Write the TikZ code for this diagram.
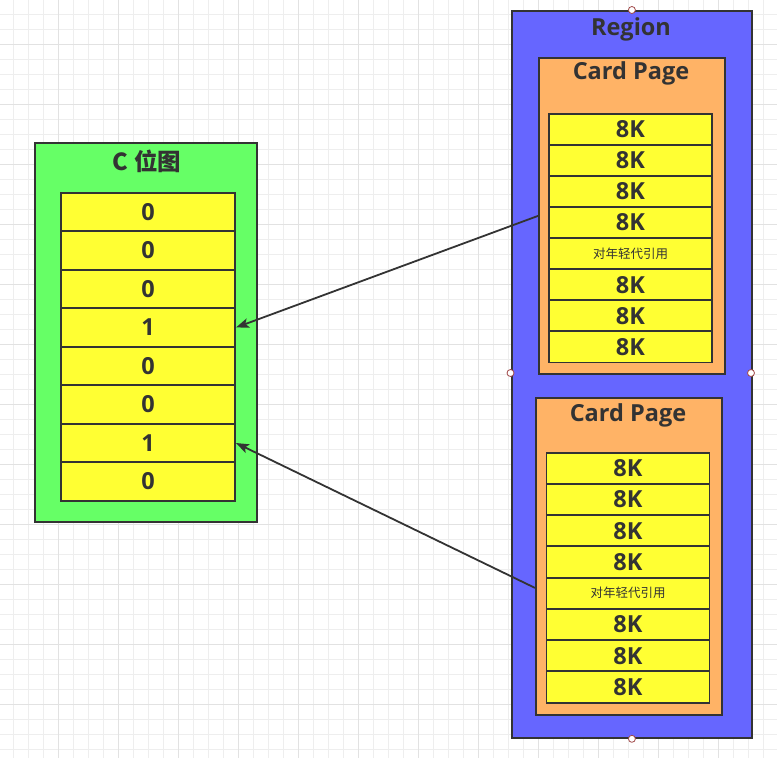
\documentclass[tikz,border=0pt]{standalone}
\usepackage{fontspec}
\setmainfont{Open Sans}
\newfontfamily\cjk{Noto Sans CJK SC}
\usetikzlibrary{arrows.meta,positioning,calc}

\definecolor{ink}{HTML}{333333}
\definecolor{bitgreen}{HTML}{66FF66}
\definecolor{regblue}{HTML}{6666FF}
\definecolor{cardorange}{HTML}{FFB366}
\definecolor{cellyellow}{HTML}{FFFF33}
\definecolor{gridlight}{HTML}{EEEEEE}
\definecolor{griddark}{HTML}{E2E2E2}
\definecolor{handlered}{HTML}{A04848}

\newcommand\young{{\cjk\fontsize{12.5}{12.5}\selectfont\mdseries 对年轻代引用}}

\begin{document}
\begin{tikzpicture}[x=1pt, y=-1pt,
  every node/.style={font=\fontsize{23.5}{23.5}\selectfont\bfseries, text=ink},
  box/.style={draw=ink, line width=1.8pt, anchor=north west, inner sep=0pt},
  bitcell/.style={draw=ink, fill=cellyellow, line width=1.9pt, minimum width=174pt, minimum height=38.5pt, inner sep=0pt},
  pagecell/.style={draw=ink, fill=cellyellow, line width=1.9pt, minimum width=163pt, minimum height=31.2pt, inner sep=0pt},
  link/.style={draw=ink, line width=1.8pt, -{Stealth[length=13pt,width=9.5pt,inset=3pt]}},
  selhandle/.style={circle, draw=handlered, fill=white, line width=0.8pt, minimum size=7pt, inner sep=0pt}]
\useasboundingbox (0,0) rectangle (777,758);
\fill[white] (0,0) rectangle (777,758);

% canvas grid
\foreach \k in {0,...,51}
  \draw[gridlight, line width=0.8pt] ({13.5+15*\k},0) -- ++(0,758);
\foreach \k in {0,...,50}
  \draw[gridlight, line width=0.8pt] (0,{14+15*\k}) -- ++(777,0);
\foreach \k in {0,...,12}
  \draw[griddark, line width=0.9pt] ({58.5+60*\k},0) -- ++(0,758);
\foreach \k in {0,...,12}
  \draw[griddark, line width=0.9pt] (0,{44+60*\k}) -- ++(777,0);

% bitmap
\node[box, fill=bitgreen, minimum width=222pt, minimum height=379pt] (bitmap) at (34,142) {};
\node (bitmaptitle) at (147,161) {\cjk C 位图};
\foreach \v [count=\i] in {0,0,0,1,0,0,1,0}
  \node[bitcell] (b\i) at (148,{212+38.5*(\i-1)}) {\v};

% region with two card pages
\node[box, fill=regblue, minimum width=240pt, minimum height=727pt] (region) at (511,10) {};
\node (regiontitle) at (631,29) {Region};
\node[box, fill=cardorange, minimum width=186pt, minimum height=316pt] (card1) at (538,57) {};
\node (card1title) at (631,73) {Card Page};
\node[box, fill=cardorange, minimum width=186pt, minimum height=317pt] (card2) at (535,397) {};
\node (card2title) at (628,415) {Card Page};
\foreach \t [count=\i] in {8K,8K,8K,8K,\young,8K,8K,8K} {
  \node[pagecell] (p\i) at (630.5,{129.2+31.1*(\i-1)}) {\t};
  \node[pagecell] (q\i) at (628,{468.2+31.25*(\i-1)}) {\t};
}

% references
\draw[link] (card1.west) -- (b4.east);
\draw[link] ([yshift=-31.5pt]card2.west) -- (b7.east);

% selection handles
\node[selhandle] (hn) at (region.north) {};
\node[selhandle] (hw) at (510.5,373) {};
\node[selhandle] (he) at (751,373) {};
\node[selhandle] (hs) at (region.south) {};
\end{tikzpicture}
\end{document}
